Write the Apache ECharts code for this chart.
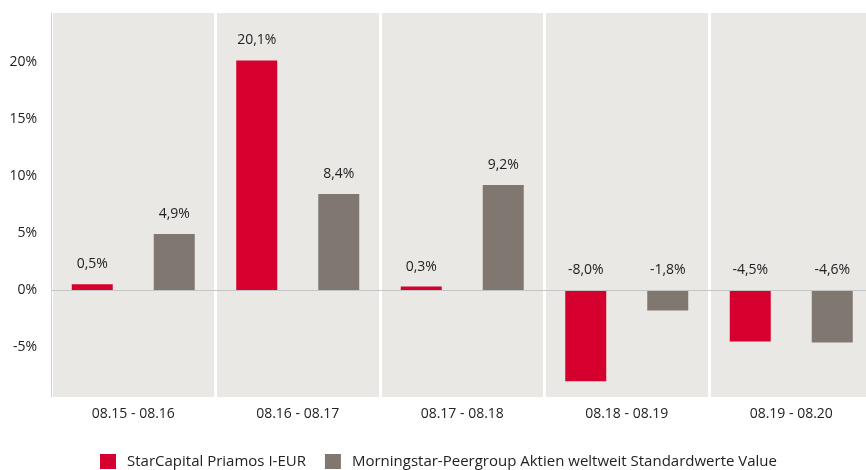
<!DOCTYPE html>
<html>
<head>
<meta charset="utf-8">
<script src="https://cdn.jsdelivr.net/npm/echarts@6/dist/echarts.min.js"></script>
<style>
  html, body { margin: 0; padding: 0; background: #fff; }
  #chart { width: 866px; height: 470px; }
</style>
</head>
<body>
<div id="chart"></div>
<script>
// Daten
var categories = ['08.15 - 08.16', '08.16 - 08.17', '08.17 - 08.18', '08.18 - 08.19', '08.19 - 08.20'];
var fundName = 'StarCapital Priamos I-EUR';
var peerName = 'Morningstar-Peergroup Aktien weltweit Standardwerte Value';
var fundValues = [0.5, 20.1, 0.3, -8.0, -4.5];
var peerValues = [4.9, 8.4, 9.2, -1.8, -4.6];
var yTicks = [-5, 0, 5, 10, 15, 20];

var FONT = 'Open Sans';

function pct(v) {
    return v.toFixed(1).replace('.', ',') + '%';
}

var barLabel = {
    show: true,
    position: 'top',
    distance: 13,
    fontFamily: FONT,
    fontSize: 14,
    color: '#222',
    formatter: function (p) { return pct(p.value); }
};

var option = {
    animation: false,
    backgroundColor: '#fff',
    textStyle: { fontFamily: FONT },
    grid: {
        left: 51, top: 13, bottom: 73, right: -7.5,
        outerBoundsMode: 'none',
        containLabel: false,
        show: true, backgroundColor: '#eae8e5', borderWidth: 0
    },
    legend: {
        left: 95,
        bottom: -4,
        icon: 'rect',
        itemWidth: 16,
        itemHeight: 15,
        itemGap: 19,
        textStyle: { fontFamily: FONT, fontSize: 15, color: '#222', padding: [0, 0, 0, 6] },
        data: [fundName, peerName]
    },
    xAxis: {
        type: 'category',
        data: categories,
        axisLine: { show: false },
        axisTick: { show: false },
        axisLabel: { fontFamily: FONT, fontSize: 14, color: '#222', margin: 10 },
        splitLine: { show: true, lineStyle: { color: '#fff', width: 3 } }
    },
    yAxis: {
        type: 'value',
        min: -9.37,
        max: 24.25,
        axisLine: { show: true, lineStyle: { color: '#d0d0d0', width: 1 } },
        axisTick: { show: false },
        splitLine: { show: false },
        axisLabel: {
            customValues: yTicks,
            fontFamily: FONT, fontSize: 14, color: '#222', margin: 14,
            formatter: function (v) { return v + '%'; }
        }
    },
    series: [
        {
            name: fundName,
            type: 'bar',
            data: fundValues,
            barWidth: 41,
            barGap: '100%',
            itemStyle: { color: '#d6002f' },
            label: barLabel,
            markLine: {
                silent: true,
                symbol: 'none',
                label: { show: false },
                lineStyle: { color: '#c4c4c4', type: 'solid', width: 1 },
                data: [{ yAxis: 0 }]
            }
        },
        {
            name: peerName,
            type: 'bar',
            data: peerValues,
            barWidth: 41,
            barGap: '100%',
            itemStyle: { color: '#807870' },
            label: barLabel
        }
    ]
};

var myChart = echarts.init(document.getElementById('chart'));
myChart.setOption(option);
</script>
</body>
</html>
